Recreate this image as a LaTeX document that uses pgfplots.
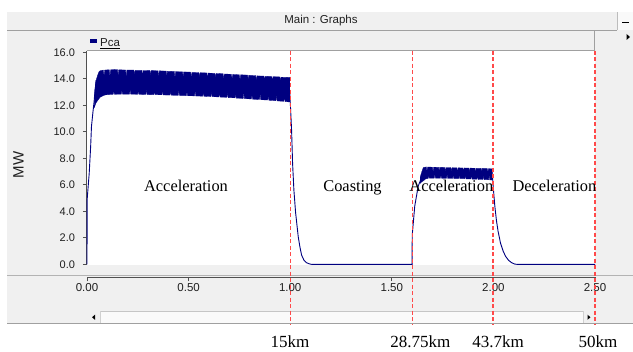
\documentclass[border=0pt]{standalone}
\usepackage{fontspec}
\setmainfont{Liberation Sans}
\newfontfamily\tnr{Liberation Serif}
\usepackage{pgfplots}
\pgfplotsset{compat=1.18}
\definecolor{panel}{HTML}{F0F0F0}
\definecolor{edge}{HTML}{A0A0A0}
\definecolor{navy}{HTML}{000080}
\definecolor{dashred}{HTML}{FF4A4A}
\definecolor{axisgray}{HTML}{505050}
\definecolor{txt}{HTML}{202020}

\begin{document}
\begin{tikzpicture}[x=1pt,y=1pt]
\useasboundingbox (0,0) rectangle (633,352);
\fill[white] (0,0) rectangle (633,352);
% panel
\fill[panel] (7,28) rectangle (633,340);
\draw[edge, line width=0.8pt] (7,322) -- (617,322);
\fill[white!60!panel] (617.5,322) rectangle (633,340);
\draw[edge!70, line width=0.6pt] (617.5,322) -- (617.5,340);
\draw[black, line width=1.3pt] (622,329.5) -- (629,329.5);
\fill[black] (626.5,312) -- (626.5,318) -- (630,315) -- cycle;
\node[font=\fontsize{11.5}{12}\selectfont, text=txt] at (321,331) {Main : Graphs};
% legend strip
\fill[navy] (90,308.7) rectangle (96.7,312.7);
\node[anchor=base west, inner sep=0pt, font=\fontsize{11.5}{12}\selectfont, text=txt] at (100,305.2) {Pca};
\draw[black, line width=0.7pt] (100,303.4) -- (120,303.4);
% borders of plot region
\draw[edge, line width=0.8pt] (87,301.3) -- (594.3,301.3);
\draw[edge, line width=0.8pt] (594.3,321) -- (594.3,87);
% separator below plot
\draw[edge!80, line width=0.8pt] (7,76.2) -- (633,76.2);
% scrollbar
\fill[white!70!panel] (100,29) rectangle (583,40.5);
\draw[edge!60, line width=0.5pt] (87,40.5) -- (595,40.5);
\fill[panel] (87,29) rectangle (100,40.5);
\fill[panel] (583,29) rectangle (595,40.5);
\draw[edge!50, line width=0.5pt] (100,29) -- (100,40.5) (583,29) -- (583,40.5);
\fill[black] (92,34.75) -- (95,37.3) -- (95,32.2) -- cycle;
\fill[black] (590.5,34.75) -- (587.5,37.3) -- (587.5,32.2) -- cycle;
\draw[edge, line width=1pt] (7,28) -- (633,28);
\node[rotate=90, font=\fontsize{15}{15}\selectfont, text=txt] at (18.5,187) {MW};

% x ruler
\begin{axis}[at={(87pt,74.5pt)}, anchor=south west, scale only axis,
  width=508pt, height=2pt, xmin=0, xmax=2.5, ymin=0, ymax=1,
  axis y line=none, axis x line*=bottom,
  x axis line style={-, axisgray, line width=1.6pt},
  xtick={0,0.5,1,1.5,2,2.5}, tick align=outside, major tick length=4pt,
  xtick style={axisgray, line width=0.8pt},
  xticklabel style={yshift=1.5pt, font=\fontsize{11.5}{12}\selectfont, text=txt,
    /pgf/number format/.cd, fixed, fixed zerofill, precision=2, assume math mode=true}]
\addplot[draw=none] coordinates {(0,0)};
\end{axis}

% main axis
\begin{axis}[at={(87pt,87pt)}, anchor=south west, scale only axis,
  width=508pt, height=214.3pt, xmin=0, xmax=2.5, ymin=-0.05, ymax=16.12,
  axis x line=none, axis y line*=left,
  y axis line style={-, axisgray, line width=1pt},
  ytick={0,2,...,16}, tick align=outside, major tick length=4pt,
  ytick style={axisgray, line width=0.8pt},
  yticklabel style={xshift=-4.5pt, font=\fontsize{11}{12}\selectfont, text=txt,
    /pgf/number format/.cd, fixed, fixed zerofill, precision=1, assume math mode=true},
  axis background/.style={fill=white}, clip=false]
% rise 1
\addplot[navy, line width=0.9pt] coordinates {
(0,0) (0.0008,4.9) (0.011,6.9) (0.018,8.9) (0.022,10.4) (0.030,11.6)
(0.035,12.3) (0.039,13.0) (0.045,13.9)};
% band 1 (envelope of the fast oscillation)
\addplot[navy, fill=navy, line width=0.3pt] coordinates {
(0.035,11.8) (0.039,13.2) (0.045,13.9) (0.052,14.25) (0.058,14.5) (0.064,14.6)
(0.08,14.66) (0.084,14.2) (0.087,14.66) (0.11,14.68) (0.113,14.1) (0.116,14.68)
(0.15,14.7) (0.153,14.2) (0.156,14.68) (0.19,14.66) (0.193,14.0) (0.196,14.66)
(0.23,14.66) (0.233,14.25) (0.236,14.64) (0.27,14.64) (0.273,14.1) (0.276,14.62)
(0.31,14.63) (0.313,14.2) (0.316,14.62) (0.35,14.6) (0.353,14.05) (0.356,14.6)
(0.39,14.58) (0.393,14.2) (0.396,14.57) (0.43,14.55) (0.433,14.0) (0.436,14.54)
(0.47,14.52) (0.473,14.15) (0.476,14.52) (0.51,14.5) (0.513,14.0) (0.516,14.48)
(0.55,14.47) (0.553,14.1) (0.556,14.46) (0.59,14.44) (0.593,13.9) (0.596,14.43)
(0.63,14.41) (0.633,14.05) (0.636,14.4) (0.67,14.38) (0.673,13.9) (0.676,14.36)
(0.71,14.34) (0.714,14.0) (0.717,14.33) (0.75,14.3) (0.753,13.85) (0.756,14.3)
(0.79,14.28) (0.793,13.95) (0.796,14.26) (0.83,14.24) (0.833,13.8) (0.836,14.22)
(0.87,14.2) (0.873,13.9) (0.876,14.19) (0.91,14.17) (0.913,13.75) (0.916,14.16)
(0.95,14.14) (0.953,13.85) (0.956,14.12) (0.998,14.1)
(0.998,12.25) (0.975,12.28) (0.972,12.7) (0.969,12.3) (0.935,12.33) (0.932,12.8)
(0.929,12.35) (0.895,12.38) (0.892,12.75) (0.889,12.4) (0.855,12.42) (0.852,12.85)
(0.849,12.44) (0.815,12.46) (0.812,12.8) (0.809,12.48) (0.775,12.5) (0.772,12.95)
(0.769,12.52) (0.735,12.54) (0.732,12.9) (0.729,12.56) (0.695,12.58) (0.692,13.0)
(0.689,12.6) (0.655,12.62) (0.652,12.95) (0.649,12.63) (0.615,12.65) (0.612,13.05)
(0.609,12.66) (0.575,12.68) (0.572,13.0) (0.569,12.69) (0.535,12.7) (0.532,13.1)
(0.529,12.71) (0.495,12.72) (0.492,13.05) (0.489,12.73) (0.455,12.74) (0.452,13.15)
(0.449,12.75) (0.415,12.76) (0.412,13.1) (0.409,12.77) (0.375,12.78) (0.372,13.2)
(0.369,12.79) (0.335,12.8) (0.332,13.1) (0.329,12.8) (0.295,12.81) (0.292,13.25)
(0.289,12.82) (0.255,12.83) (0.252,13.1) (0.249,12.83) (0.215,12.84) (0.212,13.2)
(0.209,12.84) (0.175,12.84) (0.172,13.15) (0.169,12.84) (0.135,12.83) (0.132,13.1)
(0.129,12.83) (0.10,12.8) (0.088,12.78) (0.076,12.7) (0.064,12.6) (0.052,12.35)
(0.045,12.2) (0.040,12.0) (0.035,11.8)};
% decay 1, coasting, rise 2
\addplot[navy, line width=0.9pt] coordinates {
(0.998,13.0) (1.0069,10.1) (1.0118,7.6) (1.0182,5.6) (1.0266,3.9) (1.0394,2.1)
(1.048,1.3) (1.056,0.7) (1.068,0.3) (1.0807,0.12) (1.095,0.03) (1.105,0) (1.6,0)
(1.6005,2.2) (1.613,4.4) (1.630,5.9) (1.645,6.5) (1.655,6.8)};
% decay 2, stop
\addplot[navy, line width=0.9pt] coordinates {
(1.995,6.7) (2.001,5.5) (2.007,4.4) (2.015,3.3) (2.023,2.5) (2.035,1.6)
(2.048,1.0) (2.06,0.6) (2.075,0.3) (2.09,0.12) (2.105,0.02) (2.115,0) (2.5,0)};
% band 2
\addplot[navy, fill=navy, line width=0.3pt] coordinates {
(1.64,6.6) (1.648,7.0) (1.655,7.3) (1.67,7.35) (1.673,7.0) (1.676,7.34)
(1.70,7.33) (1.703,6.95) (1.706,7.33) (1.73,7.32) (1.733,7.05) (1.736,7.32)
(1.76,7.31) (1.763,6.95) (1.766,7.3) (1.79,7.3) (1.793,7.0) (1.796,7.29)
(1.82,7.28) (1.823,6.9) (1.826,7.28) (1.85,7.27) (1.853,7.0) (1.856,7.27)
(1.88,7.26) (1.883,6.95) (1.886,7.26) (1.91,7.25) (1.913,6.9) (1.916,7.25)
(1.94,7.24) (1.943,7.0) (1.946,7.24) (1.97,7.23) (1.973,6.95) (1.976,7.22) (1.995,7.2)
(1.995,6.36) (1.982,6.37) (1.979,6.7) (1.976,6.38) (1.955,6.39) (1.952,6.75)
(1.949,6.4) (1.925,6.41) (1.922,6.7) (1.919,6.42) (1.895,6.43) (1.892,6.8)
(1.889,6.44) (1.865,6.45) (1.862,6.72) (1.859,6.46) (1.835,6.46) (1.832,6.78)
(1.829,6.47) (1.805,6.47) (1.802,6.75) (1.799,6.48) (1.775,6.48) (1.772,6.8)
(1.769,6.49) (1.745,6.49) (1.742,6.75) (1.739,6.5) (1.715,6.5) (1.712,6.8)
(1.709,6.5) (1.685,6.5) (1.682,6.7) (1.679,6.48) (1.667,6.45) (1.655,6.3)
(1.645,6.2) (1.64,6.1)};
% segment markers
\addplot[dashred, line width=1.2pt, dash pattern=on 4pt off 2.5pt] coordinates {(1.0,16.12) (1.0,-4.5)};
\addplot[dashred, line width=1.2pt, dash pattern=on 4pt off 2.5pt] coordinates {(1.6,16.12) (1.6,-4.5)};
\addplot[dashred, line width=2pt, dash pattern=on 4pt off 2.5pt] coordinates {(2.0,16.12) (2.0,-4.5)};
\addplot[dashred, line width=1.2pt, dash pattern=on 4pt off 2.5pt] coordinates {(2.5,16.12) (2.5,-4.5)};
\end{axis}

% phase labels
\begin{scope}[every node/.style={anchor=base, inner sep=0pt, font=\tnr\fontsize{16.4}{17}\selectfont}]
\node at (186,160.5) {Acceleration};
\node at (352.5,160.5) {Coasting};
\node at (451.3,160.5) {Acceleration};
\node at (554.4,160.5) {Deceleration};
\end{scope}
\begin{scope}[every node/.style={anchor=base, inner sep=0pt, font=\tnr\fontsize{17}{18}\selectfont}]
\node at (290,4.5) {15km};
\node at (420.3,4.5) {28.75km};
\node at (498,4.5) {43.7km};
\node at (598,4.5) {50km};
\end{scope}
\end{tikzpicture}
\end{document}
